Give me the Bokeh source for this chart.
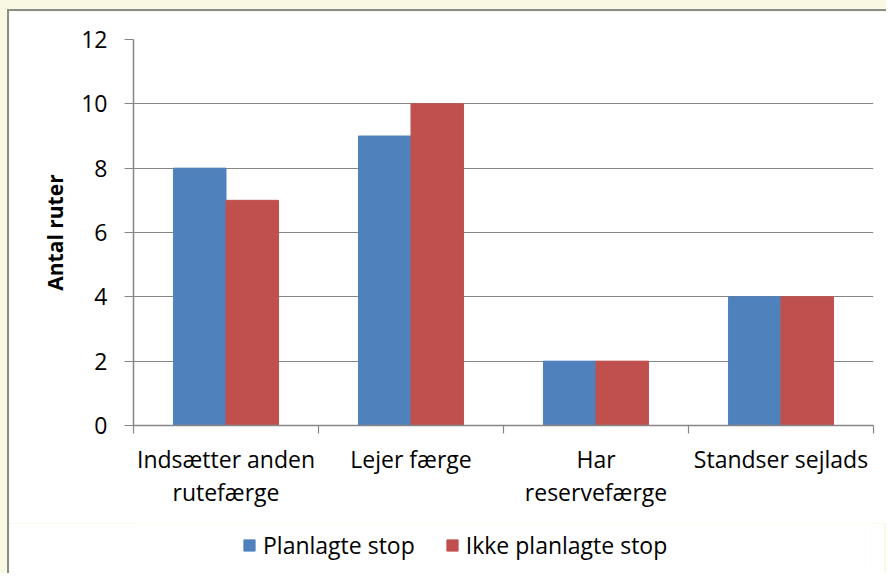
from bokeh.plotting import figure
from bokeh.layouts import column
from bokeh.models import Range1d, FixedTicker, Legend, LegendItem
from bokeh.embed import file_html
from bokeh.resources import INLINE

categories = ["Indsætter anden\nrutefærge", "Lejer færge", "Har\nreservefærge", "Standser sejlads"]
planlagte = [8, 9, 2, 4]
ikke_planlagte = [7, 10, 2, 4]
y_ticks = [0, 2, 4, 6, 8, 10, 12]
series_names = ["Planlagte stop", "Ikke planlagte stop"]

BLUE = "#4F81BD"
RED = "#C0504D"
GRAY = "#868686"
FONT = "Open Sans"

centers = [i + 0.5 for i in range(len(categories))]
bar_w = 0.284
BORDER = "2px solid #8c8c8c"

p = figure(frame_width=738, frame_height=384, output_backend="svg", toolbar_location=None,
           x_range=Range1d(0, len(categories)), y_range=Range1d(0, 12),
           min_border_left=124, min_border_right=15, min_border_top=28, min_border_bottom=100,
           background_fill_color="white", border_fill_color="white",
           outline_line_color=None,
           styles={"border-left": BORDER, "border-top": BORDER})

r1 = p.vbar(x=[c - bar_w / 2 for c in centers], top=planlagte, width=bar_w,
            fill_color=BLUE, line_color=BLUE)
r2 = p.vbar(x=[c + bar_w / 2 for c in centers], top=ikke_planlagte, width=bar_w,
            fill_color=RED, line_color=RED)

# grid
p.xgrid.visible = False
p.ygrid.ticker = FixedTicker(ticks=y_ticks)
p.ygrid.grid_line_color = GRAY
p.ygrid.grid_line_width = 1.2

# y axis
p.yaxis.ticker = FixedTicker(ticks=y_ticks)
p.yaxis.axis_line_color = GRAY
p.yaxis.axis_line_width = 1.5
p.yaxis.major_tick_line_color = GRAY
p.yaxis.major_tick_line_width = 1.2
p.yaxis.major_tick_out = 9
p.yaxis.major_tick_in = 0
p.yaxis.minor_tick_line_color = None
p.yaxis.major_label_text_font = FONT
p.yaxis.major_label_text_font_size = "23px"
p.yaxis.major_label_text_color = "black"
p.yaxis.major_label_standoff = 17
p.yaxis.axis_label = "Antal ruter"
p.yaxis.axis_label_text_font = FONT
p.yaxis.axis_label_text_font_style = "bold"
p.yaxis.axis_label_text_font_size = "21px"
p.yaxis.axis_label_text_color = "black"
p.yaxis.axis_label_standoff = 9

# x axis: labels at centers, ticks at boundaries (minor ticks)
p.xaxis.ticker = FixedTicker(ticks=centers, minor_ticks=list(range(len(categories) + 1)))
p.xaxis.major_label_overrides = {c: lab for c, lab in zip(centers, categories)}
p.xaxis.axis_line_color = GRAY
p.xaxis.axis_line_width = 1.5
p.xaxis.major_tick_line_color = None
p.xaxis.major_tick_out = 0
p.xaxis.major_tick_in = 0
p.xaxis.minor_tick_line_color = GRAY
p.xaxis.minor_tick_line_width = 1.2
p.xaxis.minor_tick_out = 8
p.xaxis.minor_tick_in = 0
p.xaxis.major_label_text_font = FONT
p.xaxis.major_label_text_font_size = "23px"
p.xaxis.major_label_text_color = "black"
p.xaxis.major_label_text_line_height = 1.05
p.xaxis.major_label_standoff = 9

# legend in a separate strip below the chart (proxy glyphs lie outside its view)
pl = figure(width=877, height=50, output_backend="svg", toolbar_location=None,
            x_range=Range1d(0, 1), y_range=Range1d(0, 1),
            x_axis_type=None, y_axis_type=None,
            min_border=0, outline_line_color=None,
            background_fill_color="white", border_fill_color="white",
            styles={"border-left": BORDER})
pl.grid.visible = False
l1 = pl.vbar(x=[-1], top=[0], width=0.1, fill_color=BLUE, line_color=BLUE)
l2 = pl.vbar(x=[-1], top=[0], width=0.1, fill_color=RED, line_color=RED)

legend = Legend(items=[LegendItem(label=series_names[0], renderers=[l1]),
                       LegendItem(label=series_names[1], renderers=[l2])],
                orientation="horizontal", location=(109, 12),
                glyph_width=14, glyph_height=14, label_standoff=7, spacing=30,
                label_text_font=FONT, label_text_font_size="23px", label_text_color="black",
                background_fill_alpha=0, border_line_color=None,
                padding=0, margin=0)
pl.add_layout(legend, "center")

layout = column(p, pl, spacing=0,
                styles={"background-color": "#F9F8E2", "padding-left": "7px", "padding-top": "9px"})

html = file_html(layout, INLINE)
html = html.replace("<body>", '<body style="background-color:#F9F8E2;">', 1)
open("out.html", "w").write(html)
